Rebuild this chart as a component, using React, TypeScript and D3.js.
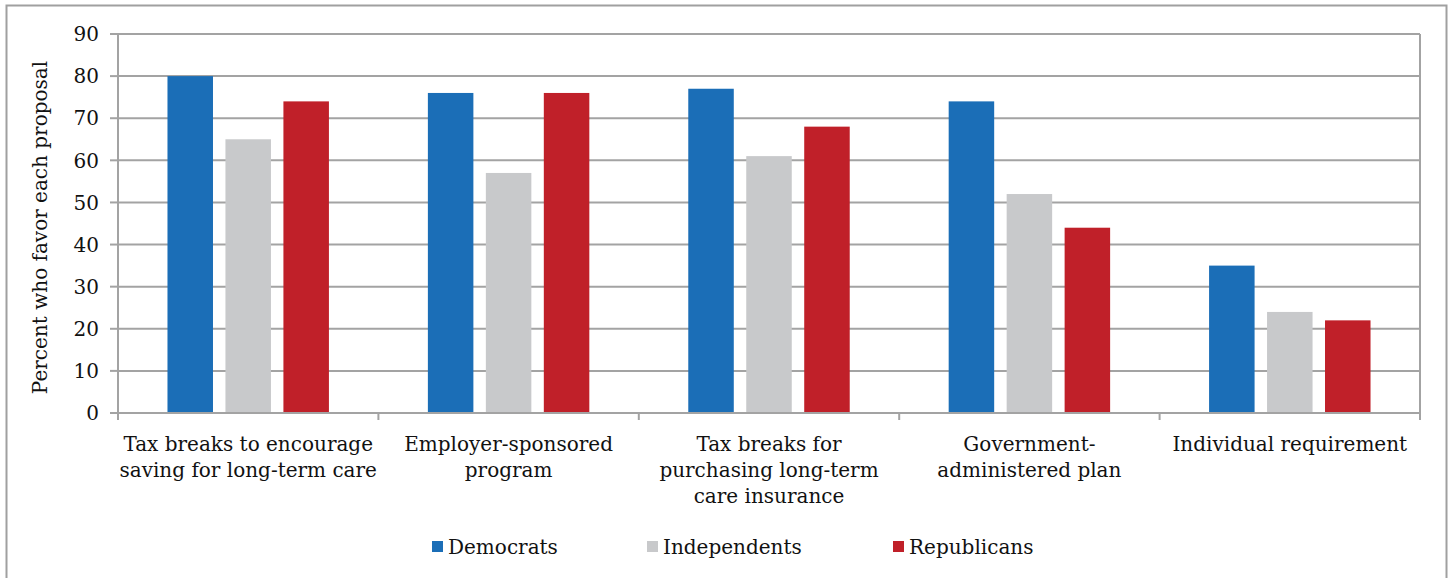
import React from "react";
import * as d3 from "d3";

const categories: string[][] = [
  ["Tax breaks to encourage", "saving for long-term care"],
  ["Employer-sponsored", "program"],
  ["Tax breaks for", "purchasing long-term", "care insurance"],
  ["Government-", "administered plan"],
  ["Individual requirement"],
];
const seriesNames = ["Democrats", "Independents", "Republicans"];
const democrats = [80, 76, 77, 74, 35];
const independents = [65, 57, 61, 52, 24];
const republicans = [74, 76, 68, 44, 22];
const yTicks = [0, 10, 20, 30, 40, 50, 60, 70, 80, 90];
const colors = ["#1b6eb7", "#c8c9cb", "#c02029"];

const W = 1450, H = 578;
const left = 118, right = 1420, top = 34, bottom = 413;
const FONT = "'DejaVu Serif', serif";

export default function App() {
  const series = [democrats, independents, republicans];
  const x = d3.scaleBand<number>().domain(categories.map((_, i) => i)).range([left, right]).paddingInner(0).paddingOuter(0);
  const y = d3.scaleLinear().domain([0, 90]).range([bottom, top]);
  const bw = x.bandwidth();
  const inner = d3.scaleBand<number>().domain([0, 1, 2]).range([bw * 0.19, bw * 0.81]).paddingInner(0.215);
  const legendX = [432, 647, 893];
  return (
    <svg width={W} height={H} style={{ position: "absolute", left: 0, top: 0, background: "#fff" }} fontFamily={FONT}>
      <rect x={6.5} y={5.5} width={1440} height={600} fill="none" stroke="#a0a0a0" strokeWidth={2} />
      {yTicks.map((t) => (
        <g key={t}>
          {t > 0 && <line x1={left} x2={right} y1={y(t)} y2={y(t)} stroke="#a3a3a3" strokeWidth={2} />}
          <line x1={110} x2={left} y1={y(t)} y2={y(t)} stroke="#a3a3a3" strokeWidth={2} />
          <text x={99} y={y(t)} dy="0.36em" textAnchor="end" fontSize={20} fill="#111">{t}</text>
        </g>
      ))}
      <line x1={right} x2={right} y1={top} y2={bottom + 7} stroke="#a3a3a3" strokeWidth={2} />
      {series.map((vals, s) =>
        vals.map((v, i) => (
          <rect key={s + "-" + i} x={(x(i) as number) + (inner(s) as number)} width={inner.bandwidth()} y={y(v)} height={y(0) - y(v)} fill={colors[s]} />
        ))
      )}
      <line x1={left} x2={left} y1={top} y2={bottom} stroke="#a3a3a3" strokeWidth={2} />
      <line x1={left - 8} x2={right} y1={bottom} y2={bottom} stroke="#a3a3a3" strokeWidth={2} />
      {categories.map((_, i) => (
        <line key={"ct" + i} x1={(x(i) as number)} x2={(x(i) as number)} y1={bottom} y2={bottom + 7} stroke="#a3a3a3" strokeWidth={2} />
      ))}
      {categories.map((lines, i) => (
        <text key={"cl" + i} x={(x(i) as number) + bw / 2} y={451} textAnchor="middle" fontSize={20} fill="#111">
          {lines.map((l, j) => (
            <tspan key={j} x={(x(i) as number) + bw / 2} dy={j === 0 ? 0 : 26}>{l}</tspan>
          ))}
        </text>
      ))}
      <text transform={`translate(47,227.5) rotate(-90)`} textAnchor="middle" fontSize={20} fill="#111">Percent who favor each proposal</text>
      {seriesNames.map((n, s) => (
        <g key={n}>
          <rect x={legendX[s]} y={541} width={11} height={11} fill={colors[s]} />
          <text x={legendX[s] + 16} y={554} fontSize={20} fill="#111">{n}</text>
        </g>
      ))}
    </svg>
  );
}
